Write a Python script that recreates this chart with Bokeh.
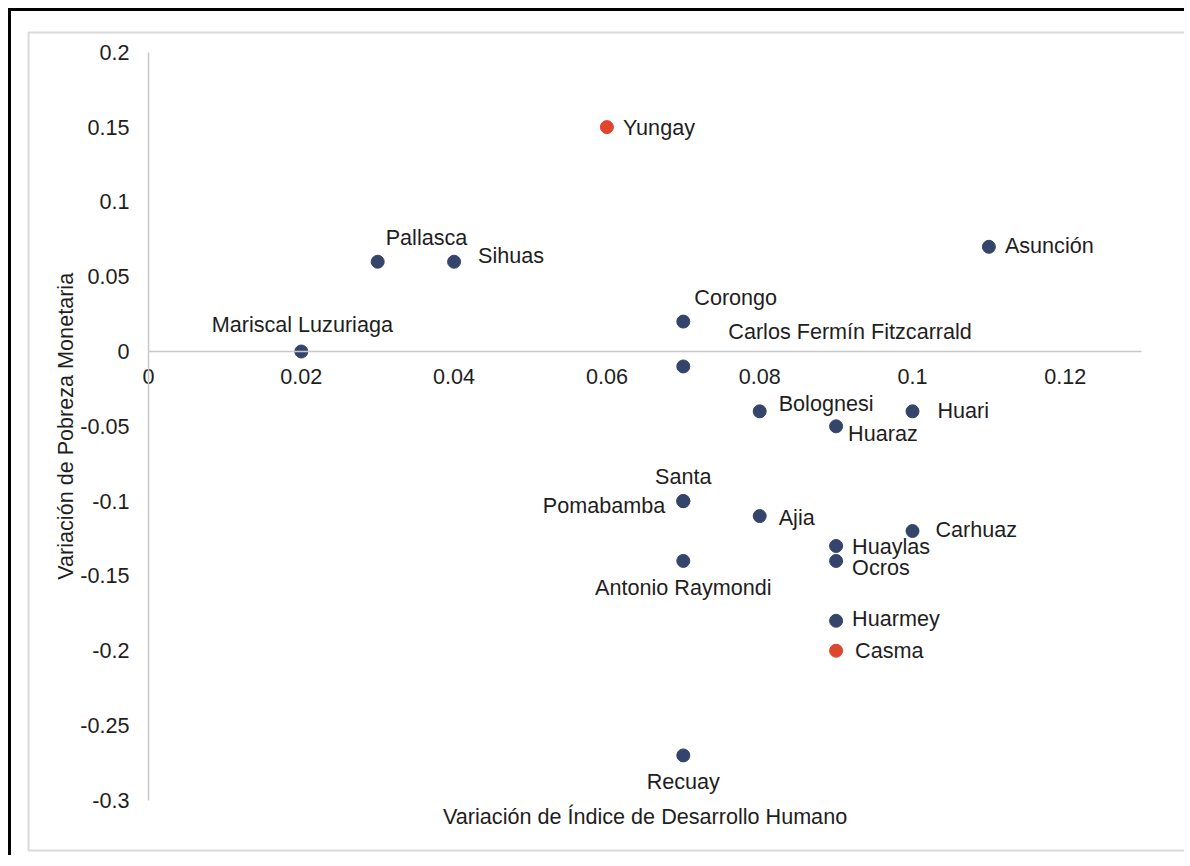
import math
from bokeh.plotting import figure
from bokeh.models import (ColumnDataSource, LinearAxis, FixedTicker, CustomJSTickFormatter,
                          Range1d, Label)
from bokeh.core.properties import value
from bokeh.embed import file_html
from bokeh.resources import INLINE

# ---------------- data ----------------
provincias = ["Yungay", "Pallasca", "Sihuas", "Asunción", "Corongo", "Mariscal Luzuriaga",
              "Carlos Fermín Fitzcarrald", "Bolognesi", "Huari", "Huaraz", "Santa",
              "Pomabamba", "Ajia", "Carhuaz", "Huaylas", "Ocros", "Antonio Raymondi",
              "Huarmey", "Casma", "Recuay"]
var_idh = [0.06, 0.03, 0.04, 0.11, 0.07, 0.02, 0.07, 0.08, 0.10, 0.09, 0.07,
           0.07, 0.08, 0.10, 0.09, 0.09, 0.07, 0.09, 0.09, 0.07]
var_pobreza = [0.15, 0.06, 0.06, 0.07, 0.02, 0.0, -0.01, -0.04, -0.04, -0.05, -0.10,
               -0.10, -0.11, -0.12, -0.13, -0.14, -0.14, -0.18, -0.20, -0.27]
destacado = ["Yungay", "Casma"]
x_ticks = [0, 0.02, 0.04, 0.06, 0.08, 0.10, 0.12]
y_ticks = [0.2, 0.15, 0.1, 0.05, 0, -0.05, -0.1, -0.15, -0.2, -0.25, -0.3]
x_title = "Variación de Índice de Desarrollo Humano"
y_title = "Variación de Pobreza Monetaria"

# ---------------- styles ----------------
NAVY = "#34446b"
RED = "#e0452d"
TEXT = "#1e1e1e"
FONT = "Liberation Sans"
FS = "21.6px"
# label placement (screen px offsets relative to point, alignment)
label_dx = [16, 8, 24, 16, 11, 1, 45, 19, 25, 12, 0, -18, 19, 23, 16, 16, 0, 16, 19, 0]
label_dy = [0, -24, -6, -1, -24, -27, -35, -8, -1, 7, -25, 4, 1, -2, 1, 7, 27, -2, 0, 26]
label_align = ["left", "left", "left", "left", "left", "center", "left", "left", "left",
               "left", "center", "right", "left", "left", "left", "left", "center",
               "left", "left", "center"]

colors = [RED if n in destacado else NAVY for n in provincias]
src = ColumnDataSource(dict(x=var_idh, y=var_pobreza, name=provincias, color=colors,
                            dx=label_dx, dy=label_dy, align=label_align))

p = figure(width=1176, height=847, output_backend="svg", toolbar_location=None,
           x_axis_location=None, y_axis_location=None,
           x_range=Range1d(-0.015707, 0.135733), y_range=Range1d(-0.33356, 0.21324),
           min_border_left=17, min_border_top=21, min_border_right=2, min_border_bottom=8)
p.styles = {"border-left": "3px solid #000000", "border-top": "3px solid #000000",
            "margin-left": "8px", "margin-top": "8px"}
p.grid.visible = False
p.outline_line_color = "#d9d9d9"
p.outline_line_width = 2
p.background_fill_color = "white"
p.border_fill_color = "white"

fmt = CustomJSTickFormatter(code="return String(+tick.toFixed(4));")

xax = LinearAxis(fixed_location=0, bounds=(0, 0.13), ticker=FixedTicker(ticks=x_ticks),
                 formatter=fmt)
yax = LinearAxis(fixed_location=0, bounds=(-0.3, 0.2), ticker=FixedTicker(ticks=y_ticks),
                 formatter=fmt)
for ax in (xax, yax):
    ax.axis_line_color = "#c8c8c8"
    ax.axis_line_width = 1.5
    ax.major_tick_line_color = None
    ax.minor_tick_line_color = None
    ax.major_label_text_font = FONT
    ax.major_label_text_font_size = FS
    ax.major_label_text_color = TEXT
xax.major_label_standoff = 11
yax.major_label_standoff = 13
p.add_layout(xax, "below")
p.add_layout(yax, "left")

p.scatter("x", "y", source=src, size=13, fill_color="color", line_color="color",
          line_width=1)
p.text("x", "y", text="name", source=src, x_offset="dx", y_offset="dy",
       text_align="align", text_baseline="middle", text_font=value(FONT),
       text_font_size=FS, text_color=TEXT)

p.add_layout(Label(x=0.065, y=-0.311, text=x_title, text_align="center",
                   text_baseline="middle", text_font=FONT, text_font_size=FS,
                   text_color=TEXT))
p.add_layout(Label(x=-0.01086, y=-0.05, text=y_title, text_align="center",
                   text_baseline="middle", angle=math.pi / 2, text_font=FONT,
                   text_font_size=FS, text_color=TEXT))

open("out.html", "w").write(file_html(p, INLINE))
